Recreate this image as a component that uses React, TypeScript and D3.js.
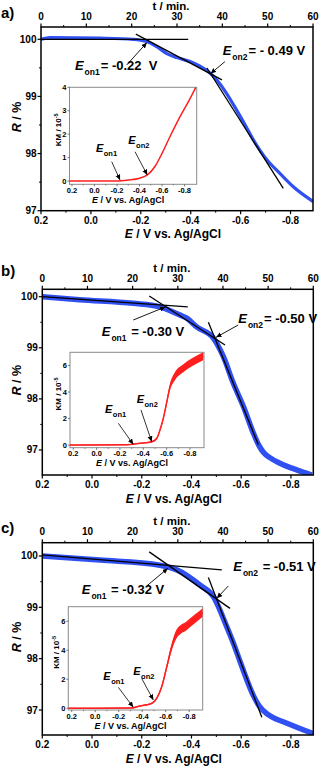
import React from 'react';
import * as d3 from 'd3';

const FONT = '"Liberation Sans", Arial, Helvetica, sans-serif';
const BLUE = '#3050f2';
const RED = '#ff1f1f';

// ---------- shared axis ticks ----------
const tDomain = [0, 60];
const tTicks = [0, 10, 20, 30, 40, 50, 60];
const tMinor = [5, 15, 25, 35, 45, 55];
const eTicks = [0.2, 0.0, -0.2, -0.4, -0.6, -0.8];
const eMinor = [0.1, -0.1, -0.3, -0.5, -0.7];
const rTicks = [97, 98, 99, 100];
const rMinor = [97.5, 98.5, 99.5];
const inETicks = [0.2, 0.0, -0.2, -0.4, -0.6, -0.8];
const inEMinor = [0.1, -0.1, -0.3, -0.5, -0.7];

// ---------- panel a ----------
const aE = [0.2, 0.164, -0.036, -0.17, -0.224, -0.264, -0.304, -0.344, -0.397, -0.437, -0.471, -0.504, -0.544, -0.584, -0.618, -0.651, -0.705, -0.758, -0.811, -0.891];
const aR = [100.0, 100.03, 100.02, 100.0, 99.96, 99.87, 99.75, 99.68, 99.61, 99.53, 99.43, 99.29, 99.05, 98.76, 98.5, 98.24, 97.89, 97.65, 97.42, 97.16];
const aFitStartE = [0.2, -0.18, -0.465];
const aFitStartR = [100.0, 100.09, 99.497];
const aFitEndE = [-0.39, -0.525, -0.771];
const aFitEndR = [100.0, 99.29, 97.39];
const aOnsetText = ['= -0.22  V', '= - 0.49 V'];
const aOnsetSub = ['on1', 'on2'];
const aLabelE = [0.064, -0.528];
const aLabelR = [99.471, 99.725];
const aArrowFromE = [-0.1435, -0.537];
const aArrowFromR = [99.55, 99.61];
const aArrowToE = [-0.224, -0.48];
const aArrowToR = [99.94, 99.4];
const aKmE = [0.222, -0.21, -0.3, -0.4, -0.47, -0.54, -0.6, -0.67, -0.76, -0.85, -0.9];
const aKm = [0, 0, 0.04, 0.12, 0.26, 0.64, 1.18, 1.89, 2.75, 3.53, 4.0];
const aKmAmp = [0, 0, 0, 0, 0, 0, 0, 0, 0, 0, 0];
const aKmTicks = [0, 1, 2, 3, 4];
const aInLabelE = [-0.013, -0.3];
const aInLabelKm = [1.25, 1.57];
const aInFromE = [-0.153, -0.36];
const aInFromKm = [0.825, 1.25];
const aInToE = [-0.227, -0.469];
const aInToKm = [0.04, 0.256];

// ---------- panel b ----------
const bE = [0.2, 0.05, -0.166, -0.273, -0.354, -0.381, -0.421, -0.488, -0.528, -0.568, -0.609, -0.649, -0.67, -0.69, -0.715, -0.756, -0.823, -0.884];
const bR = [100.0, 99.94, 99.87, 99.8, 99.64, 99.58, 99.41, 99.19, 98.83, 98.31, 97.85, 97.33, 97.1, 96.95, 96.85, 96.74, 96.61, 96.51];
const bFitStartE = [0.2, -0.23, -0.468];
const bFitStartR = [100.0, 100.014, 99.5];
const bFitEndE = [-0.385, -0.535, -0.669];
const bFitEndR = [99.8, 99.055, 97.1];
const bOnsetText = [' = -0.30 V', '= -0.50 V'];
const bOnsetSub = ['on1', 'on2'];
const bLabelE = [-0.039, -0.588];
const bLabelR = [99.231, 99.491];
const bArrowFromE = [-0.166, -0.588];
const bArrowFromR = [99.544, 99.446];
const bArrowToE = [-0.295, -0.499];
const bArrowToR = [99.8, 99.205];
const bKmE = [0.228, -0.258, -0.371, -0.472, -0.515, -0.543, -0.571, -0.6, -0.629, -0.671, -0.743, -0.828, -0.914];
const bKm = [0, 0.02, 0.13, 0.25, 0.5, 1.14, 2.0, 3.2, 4.4, 5.2, 5.8, 6.3, 6.7];
const bKmAmp = [0.03, 0.03, 0.04, 0.06, 0.08, 0.1, 0.15, 0.2, 0.25, 0.3, 0.3, 0.3, 0.3];
const bKmTicks = [0, 2, 4, 6];
const bInLabelE = [-0.072, -0.343];
const bInLabelKm = [2.4, 3.16];
const bInFromE = [-0.186, -0.38];
const bInFromKm = [1.64, 2.65];
const bInToE = [-0.314, -0.472];
const bInToKm = [0.05, 0.25];

// ---------- panel c ----------
const cE = [0.2, -0.032, -0.273, -0.341, -0.435, -0.488, -0.542, -0.568, -0.595, -0.649, -0.675, -0.7, -0.725, -0.769, -0.836, -0.89];
const cR = [100.0, 99.92, 99.82, 99.73, 99.43, 99.21, 98.62, 98.31, 97.95, 97.28, 97.06, 96.94, 96.86, 96.77, 96.64, 96.54];
const cFitStartE = [0.2, -0.23, -0.468];
const cFitStartR = [100.02, 100.08, 99.58];
const cFitEndE = [-0.522, -0.555, -0.683];
const cFitEndR = [99.73, 98.98, 96.86];
const cOnsetText = [' = -0.32 V', ' = -0.51 V'];
const cOnsetSub = ['on1', 'on2'];
const cLabelE = [0.0415, -0.568];
const cLabelR = [99.254, 99.708];
const cArrowFromE = [-0.22, -0.548];
const cArrowFromR = [99.416, 99.416];
const cArrowToE = [-0.305, -0.502];
const cArrowToR = [99.76, 99.176];
const cKmE = [0.229, -0.31, -0.381, -0.481, -0.523, -0.566, -0.609, -0.651, -0.694, -0.779, -0.864, -0.915];
const cKm = [0, 0.02, 0.16, 0.34, 0.68, 1.48, 2.85, 4.22, 5.14, 5.7, 6.27, 6.6];
const cKmAmp = [0.03, 0.03, 0.04, 0.06, 0.08, 0.12, 0.18, 0.25, 0.3, 0.3, 0.3, 0.3];
const cKmTicks = [0, 2, 4, 6];
const cInLabelE = [-0.069, -0.324];
const cInLabelKm = [1.94, 2.28];
const cInFromE = [-0.197, -0.396];
const cInFromKm = [1.44, 2.05];
const cInToE = [-0.324, -0.495];
const cInToKm = [0.07, 0.57];

type Panel = {
  id: string; letter: string; letterY: number;
  l: number; t: number; r: number; b: number;
  eDom: number[]; rDom: number[];
  E: number[]; R: number[]; bandW: number;
  fsE: number[]; fsR: number[]; feE: number[]; feR: number[];
  onText: string[]; onSub: string[]; lblE: number[]; lblR: number[];
  afE: number[]; afR: number[]; atE: number[]; atR: number[];
  il: number; it: number; ir: number; ib: number;
  ieDom: number[]; ikDom: number[];
  kE: number[]; k: number[]; kAmp: number[]; kTicks: number[];
  ilE: number[]; ilK: number[]; ifE: number[]; ifK: number[]; itE: number[]; itK: number[];
};

const panels: Panel[] = [
  {
    id: 'a', letter: 'a)', letterY: 18,
    l: 41, t: 27, r: 313, b: 210.7, eDom: [0.2, -0.89], rDom: [97, 100.215],
    E: aE, R: aR, bandW: 3.2,
    fsE: aFitStartE, fsR: aFitStartR, feE: aFitEndE, feR: aFitEndR,
    onText: aOnsetText, onSub: aOnsetSub, lblE: aLabelE, lblR: aLabelR,
    afE: aArrowFromE, afR: aArrowFromR, atE: aArrowToE, atR: aArrowToR,
    il: 69.5, it: 87.3, ir: 196.7, ib: 184.3, ieDom: [0.222, -0.908], ikDom: [-0.14, 4],
    kE: aKmE, k: aKm, kAmp: aKmAmp, kTicks: aKmTicks,
    ilE: aInLabelE, ilK: aInLabelKm, ifE: aInFromE, ifK: aInFromKm, itE: aInToE, itK: aInToKm,
  },
  {
    id: 'b', letter: 'b)', letterY: 276,
    l: 42.3, t: 289.3, r: 313.3, b: 475, eDom: [0.2, -0.89], rDom: [96.51, 100.145],
    E: bE, R: bR, bandW: 5.5,
    fsE: bFitStartE, fsR: bFitStartR, feE: bFitEndE, feR: bFitEndR,
    onText: bOnsetText, onSub: bOnsetSub, lblE: bLabelE, lblR: bLabelR,
    afE: bArrowFromE, afR: bArrowFromR, atE: bArrowToE, atR: bArrowToR,
    il: 70, it: 352.3, ir: 204, ib: 447.7, ieDom: [0.228, -0.92], ikDom: [-0.2, 7],
    kE: bKmE, k: bKm, kAmp: bKmAmp, kTicks: bKmTicks,
    ilE: bInLabelE, ilK: bInLabelKm, ifE: bInFromE, ifK: bInFromKm, itE: bInToE, itK: bInToKm,
  },
  {
    id: 'c', letter: 'c)', letterY: 533,
    l: 42.3, t: 542.7, r: 313.3, b: 735, eDom: [0.2, -0.89], rDom: [96.513, 100.259],
    E: cE, R: cR, bandW: 5.5,
    fsE: cFitStartE, fsR: cFitStartR, feE: cFitEndE, feR: cFitEndR,
    onText: cOnsetText, onSub: cOnsetSub, lblE: cLabelE, lblR: cLabelR,
    afE: cArrowFromE, afR: cArrowFromR, atE: cArrowToE, atR: cArrowToR,
    il: 68.3, it: 606.7, ir: 202.7, ib: 710, ieDom: [0.229, -0.915], ikDom: [-0.12, 7],
    kE: cKmE, k: cKm, kAmp: cKmAmp, kTicks: cKmTicks,
    ilE: cInLabelE, ilK: cInLabelKm, ifE: cInFromE, ifK: cInFromKm, itE: cInToE, itK: cInToKm,
  },
];

const fmt1 = (v: number) => (Math.abs(v) < 1e-9 ? '0.0' : v.toFixed(1));

function PanelView({ p }: { p: Panel }) {
  const x = d3.scaleLinear().domain(p.eDom).range([p.l, p.r]);
  const y = d3.scaleLinear().domain(p.rDom).range([p.b, p.t]);
  const tx = d3.scaleLinear().domain(tDomain).range([p.l, p.r]);
  const ix = d3.scaleLinear().domain(p.ieDom).range([p.il, p.ir]);
  const iy = d3.scaleLinear().domain(p.ikDom).range([p.ib, p.it]);
  const idx = p.E.map((_, i) => i);
  const blueLine = d3.line<number>().x((i) => x(p.E[i])).y((i) => y(p.R[i])).curve(d3.curveMonotoneX)(idx) || '';
  const kidx = p.kE.map((_, i) => i);
  const redLine = d3.line<number>().x((i) => ix(p.kE[i])).y((i) => iy(p.k[i])).curve(d3.curveMonotoneX)(kidx) || '';
  const redBand = d3.area<number>().x((i) => ix(p.kE[i])).y0((i) => iy(p.k[i] - p.kAmp[i])).y1((i) => iy(p.k[i] + p.kAmp[i])).curve(d3.curveMonotoneX)(kidx) || '';
  const cx = (p.l + p.r) / 2;
  const cy = (p.t + p.b) / 2;
  const icx = (p.il + p.ir) / 2;
  const icy = (p.it + p.ib) / 2;
  const clipMain = `clip-main-${p.id}`;
  const clipIn = `clip-in-${p.id}`;
  return (
    <g fontFamily={FONT} fontWeight="bold">
      <defs>
        <clipPath id={clipMain}><rect x={p.l} y={p.t} width={p.r - p.l} height={p.b - p.t} /></clipPath>
        <clipPath id={clipIn}><rect x={p.il} y={p.it} width={p.ir - p.il} height={p.ib - p.it} /></clipPath>
      </defs>
      <text x={1} y={p.letterY} fontSize={15}>{p.letter}</text>
      {/* main data */}
      <g clipPath={`url(#${clipMain})`}>
        <path d={blueLine} fill="none" stroke={BLUE} strokeWidth={p.bandW} strokeLinejoin="round" />
        {p.fsE.map((_, i) => (
          <line key={i} x1={x(p.fsE[i])} y1={y(p.fsR[i])} x2={x(p.feE[i])} y2={y(p.feR[i])} stroke="#000" strokeWidth={1.3} />
        ))}
      </g>
      {/* frame */}
      <rect x={p.l} y={p.t} width={p.r - p.l} height={p.b - p.t} fill="none" stroke="#000" strokeWidth={1.5} />
      {/* top axis */}
      {tTicks.map((v) => (
        <g key={'t' + v}>
          <line x1={tx(v)} x2={tx(v)} y1={p.t} y2={p.t - 3.5} stroke="#000" strokeWidth={1.2} />
          <text x={tx(v)} y={p.t - 7.5} fontSize={10} textAnchor="middle">{v}</text>
        </g>
      ))}
      {tMinor.map((v) => (
        <line key={'tm' + v} x1={tx(v)} x2={tx(v)} y1={p.t} y2={p.t - 2} stroke="#000" strokeWidth={1} />
      ))}
      <text x={cx - 6} y={p.t - 17.5} fontSize={11.5} textAnchor="middle">t / min.</text>
      {/* bottom axis */}
      {eTicks.map((v) => (
        <g key={'e' + v}>
          <line x1={x(v)} x2={x(v)} y1={p.b} y2={p.b + 3.5} stroke="#000" strokeWidth={1.2} />
          <text x={x(v)} y={p.b + 12.8} fontSize={10} textAnchor="middle">{fmt1(v)}</text>
        </g>
      ))}
      {eMinor.map((v) => (
        <line key={'em' + v} x1={x(v)} x2={x(v)} y1={p.b} y2={p.b + 2} stroke="#000" strokeWidth={1} />
      ))}
      <text x={cx - 4} y={p.b + 27.5} fontSize={12} textAnchor="middle">
        <tspan fontStyle="italic">E</tspan> / V vs. Ag/AgCl
      </text>
      {/* left axis */}
      {rTicks.filter((v) => v >= p.rDom[0]).map((v) => (
        <g key={'r' + v}>
          <line x1={p.l} x2={p.l - 3.5} y1={y(v)} y2={y(v)} stroke="#000" strokeWidth={1.2} />
          <text x={p.l - 4.5} y={y(v)} dy="0.35em" fontSize={10} textAnchor="end">{v}</text>
        </g>
      ))}
      {rMinor.map((v) => (
        <line key={'rm' + v} x1={p.l} x2={p.l - 2} y1={y(v)} y2={y(v)} stroke="#000" strokeWidth={1} />
      ))}
      <text transform={`translate(21,${cy - 2}) rotate(-90)`} fontSize={12.5} textAnchor="middle">
        <tspan fontStyle="italic">R</tspan> / %
      </text>
      {/* onset labels */}
      {p.onText.map((s, i) => (
        <text key={'on' + i} x={x(p.lblE[i])} y={y(p.lblR[i])} fontSize={13} style={{ whiteSpace: 'pre' }}>
          <tspan fontStyle="italic">E</tspan>
          <tspan dx={1} dy={5} fontSize={8.5}>{p.onSub[i]}</tspan>
          <tspan dx={1} dy={-5}>{s}</tspan>
        </text>
      ))}
      {p.afE.map((_, i) => (
        <line key={'ar' + i} x1={x(p.afE[i])} y1={y(p.afR[i])} x2={x(p.atE[i])} y2={y(p.atR[i])} stroke="#000" strokeWidth={0.9} markerEnd="url(#ah)" />
      ))}
      {/* inset */}
      <rect x={p.il} y={p.it} width={p.ir - p.il} height={p.ib - p.it} fill="#fff" stroke="#8a8a8a" strokeWidth={1} />
      <g clipPath={`url(#${clipIn})`}>
        <path d={redBand} fill={RED} stroke="none" />
        <path d={redLine} fill="none" stroke={RED} strokeWidth={1.5} />
      </g>
      {inETicks.map((v) => (
        <g key={'ie' + v}>
          <line x1={ix(v)} x2={ix(v)} y1={p.ib} y2={p.ib + 2} stroke="#555" strokeWidth={0.8} />
          <text x={ix(v)} y={p.ib + 8.5} fontSize={7.5} textAnchor="middle">{fmt1(v)}</text>
        </g>
      ))}
      {inEMinor.map((v) => (
        <line key={'iem' + v} x1={ix(v)} x2={ix(v)} y1={p.ib} y2={p.ib + 1.2} stroke="#555" strokeWidth={0.7} />
      ))}
      {p.kTicks.map((v) => (
        <g key={'ik' + v}>
          <line x1={p.il} x2={p.il - 2} y1={iy(v)} y2={iy(v)} stroke="#555" strokeWidth={0.8} />
          <text x={p.il - 3} y={iy(v)} dy="0.35em" fontSize={7.5} textAnchor="end">{v}</text>
        </g>
      ))}
      <text x={icx - 5} y={p.ib + 18.5} fontSize={9} textAnchor="middle">
        <tspan fontStyle="italic">E</tspan> / V vs. Ag/AgCl
      </text>
      <text transform={`translate(${p.il - 9},${icy - 6}) rotate(-90)`} fontSize={8} textAnchor="middle">
        KM / 10<tspan dy={-3} fontSize={5.5}>-5</tspan>
      </text>
      {p.ilE.map((_, i) => (
        <text key={'il' + i} x={ix(p.ilE[i])} y={iy(p.ilK[i])} fontSize={11}>
          <tspan fontStyle="italic">E</tspan>
          <tspan dx={0.5} dy={4} fontSize={7.5}>{p.onSub[i]}</tspan>
        </text>
      ))}
      {p.ifE.map((_, i) => (
        <line key={'ia' + i} x1={ix(p.ifE[i])} y1={iy(p.ifK[i])} x2={ix(p.itE[i])} y2={iy(p.itK[i])} stroke="#000" strokeWidth={0.8} markerEnd="url(#ah)" />
      ))}
    </g>
  );
}

export default function App() {
  return (
    <svg width={321} height={769} viewBox="0 0 321 769" style={{ position: 'absolute', left: 0, top: 0, background: '#fff' }}>
      <defs>
        <marker id="ah" markerUnits="userSpaceOnUse" markerWidth={6} markerHeight={6} refX={5.5} refY={2.5} orient="auto">
          <path d="M0,0 L5.5,2.5 L0,5 z" fill="#000" />
        </marker>
      </defs>
      <rect x={0} y={0} width={321} height={769} fill="#fff" />
      {panels.map((p) => (
        <PanelView key={p.id} p={p} />
      ))}
    </svg>
  );
}
